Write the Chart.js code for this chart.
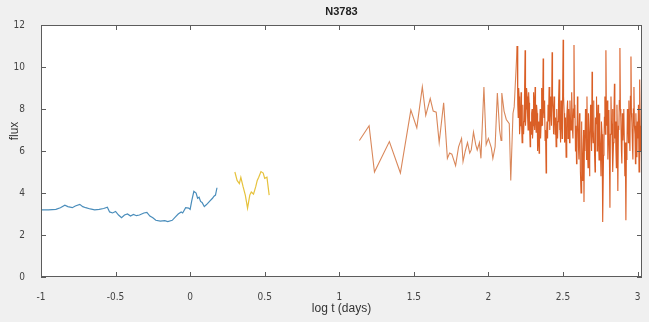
<!DOCTYPE html>
<html>
<head>
<meta charset="utf-8">
<script src="https://cdn.jsdelivr.net/npm/chart.js@4"></script>
<style>
  html, body { margin: 0; padding: 0; background: #f0f0f0; }
  #wrap { width: 649px; height: 322px; }
</style>
</head>
<body>
<div id="wrap"><canvas id="chartFlux" width="649" height="322"></canvas></div>
<script>
// Light curve of N3783: flux vs log t (days), three segments
const titleText = "N3783";
const xTicks = [-1, -0.5, 0, 0.5, 1, 1.5, 2, 2.5, 3];
const yTicks = [0, 2, 4, 6, 8, 10, 12];

// segment 1 (blue)
const blueX = [-1.00, -0.95, -0.90, -0.87, -0.84, -0.82, -0.79, -0.77, -0.74, -0.72, -0.70, -0.67, -0.64, -0.61, -0.58, -0.555,
    -0.54, -0.52, -0.50, -0.48, -0.46, -0.44, -0.42, -0.40, -0.38, -0.36, -0.34, -0.31, -0.29, -0.27, -0.25, -0.23,
    -0.20, -0.17, -0.15, -0.12, -0.10, -0.08, -0.06, -0.05, -0.03, -0.01, 0.00, 0.01, 0.025, 0.04, 0.05, 0.06, 0.07,
    0.08, 0.095, 0.11, 0.13, 0.15, 0.16, 0.17, 0.18];
const blueY = [3.2, 3.2, 3.22, 3.3, 3.42, 3.35, 3.3, 3.38, 3.46, 3.35, 3.3, 3.24, 3.2, 3.22, 3.26, 3.32,
    3.1, 3.05, 3.12, 2.95, 2.82, 2.95, 3.0, 2.9, 2.98, 2.92, 2.95, 3.05, 3.08, 2.9, 2.82, 2.7,
    2.66, 2.68, 2.64, 2.7, 2.85, 3.0, 3.1, 3.05, 3.3, 3.28, 3.22, 3.6, 4.08, 4.0, 3.75, 3.8, 3.6,
    3.55, 3.35, 3.45, 3.6, 3.75, 3.85, 3.9, 4.25];

// segment 2 (yellow)
const yellowX = [0.30, 0.315, 0.33, 0.34, 0.355, 0.37, 0.385, 0.40, 0.41, 0.425, 0.44, 0.45, 0.46, 0.475, 0.49, 0.50, 0.515, 0.53];
const yellowY = [5.0, 4.6, 4.45, 4.75, 4.3, 3.9, 3.28, 3.9, 4.05, 3.95, 4.3, 4.6, 4.75, 5.02, 4.95, 4.7, 4.75, 3.9];

// segment 3 (orange), sparse start then dense tail
const orangeX = [1.135, 1.20, 1.236, 1.336, 1.41, 1.48, 1.52, 1.557, 1.58, 1.61, 1.63, 1.65, 1.67, 1.70, 1.725, 1.74,
    1.755, 1.78, 1.80, 1.82, 1.83, 1.845, 1.86, 1.875, 1.885, 1.90, 1.915, 1.925, 1.94, 1.95, 1.97, 1.985,
    2.00, 2.02, 2.03, 2.045, 2.06, 2.075, 2.085, 2.09, 2.105, 2.12, 2.14, 2.15, 2.165, 2.173,
    2.193, 2.197, 2.200, 2.203, 2.206, 2.209, 2.212, 2.216, 2.219, 2.222, 2.226, 2.229, 2.232, 2.236, 2.239, 2.242,
    2.246, 2.249, 2.253, 2.256, 2.260, 2.263, 2.266, 2.270, 2.273, 2.276, 2.280, 2.283, 2.286, 2.290, 2.293, 2.296,
    2.300, 2.303, 2.306, 2.310, 2.313, 2.316, 2.320, 2.323, 2.327, 2.330, 2.333, 2.337, 2.340, 2.343, 2.347, 2.350,
    2.353, 2.357, 2.360, 2.363, 2.367, 2.370, 2.373, 2.377, 2.380, 2.383, 2.387, 2.390, 2.393, 2.397, 2.400, 2.403,
    2.407, 2.410, 2.413, 2.417, 2.420, 2.423, 2.427, 2.430, 2.434, 2.437, 2.440, 2.444, 2.447, 2.450, 2.454, 2.457,
    2.460, 2.464, 2.467, 2.470, 2.474, 2.477, 2.480, 2.484, 2.487, 2.490, 2.494, 2.497, 2.501, 2.504, 2.508, 2.511,
    2.514, 2.517, 2.521, 2.524, 2.527, 2.531, 2.534, 2.537, 2.540, 2.544, 2.547, 2.550, 2.554, 2.557, 2.560, 2.564,
    2.567, 2.570, 2.574, 2.577,
    2.580, 2.584, 2.587, 2.591, 2.594, 2.597, 2.600, 2.604, 2.607, 2.611, 2.614, 2.617, 2.621, 2.624, 2.627, 2.631,
    2.634, 2.638, 2.641, 2.644, 2.647, 2.651, 2.654, 2.658, 2.661, 2.664, 2.668, 2.671, 2.675, 2.678, 2.681, 2.685,
    2.688, 2.692, 2.695, 2.698, 2.702, 2.705, 2.708, 2.712, 2.715, 2.718, 2.722, 2.725, 2.729, 2.732, 2.735, 2.739,
    2.742, 2.745, 2.748, 2.752, 2.755, 2.758, 2.762, 2.765, 2.768, 2.772, 2.775, 2.778, 2.781, 2.785, 2.788, 2.791,
    2.795, 2.798, 2.801, 2.805, 2.808, 2.811, 2.815, 2.818, 2.822, 2.825, 2.829, 2.832, 2.835, 2.839, 2.842, 2.845,
    2.848, 2.852, 2.855, 2.858, 2.862, 2.865, 2.868, 2.872, 2.875, 2.878, 2.882, 2.885, 2.888, 2.892, 2.895, 2.898,
    2.902, 2.905, 2.908, 2.912, 2.915, 2.918, 2.922, 2.925, 2.929, 2.932, 2.935, 2.939, 2.942, 2.945, 2.949, 2.952,
    2.956, 2.959, 2.962, 2.966, 2.969, 2.972, 2.976, 2.979, 2.983, 2.986, 2.989, 2.993, 2.996, 2.999, 3.003, 3.006,
    3.010, 3.013, 3.016, 3.020, 3.023, 3.027, 3.030];
const orangeY = [6.5, 7.2, 5.0, 6.45, 4.95, 7.95, 7.1, 9.05, 7.7, 8.5, 7.9, 7.85, 6.4, 8.3, 5.65, 5.9,
    5.85, 5.3, 6.2, 6.6, 5.5, 6.0, 6.4, 5.9, 6.05, 6.9, 6.3, 6.05, 6.4, 5.65, 9.05, 6.3,
    6.6, 6.15, 5.65, 6.2, 8.76, 7.0, 6.5, 8.76, 7.9, 7.5, 7.3, 4.6, 7.8, 8.1,
    11.0, 8.2, 7.6, 9.0, 8.6, 6.8, 7.2, 8.0, 8.8, 7.4, 6.4, 7.6, 8.2, 6.8, 7.4, 8.6,
    10.8, 7.2, 8.0, 9.0, 8.6, 7.6, 7.0, 8.8, 8.3, 7.2, 6.2, 7.4, 6.8, 7.8, 8.0, 6.6,
    7.2, 8.8, 8.4, 7.0, 9.05, 7.6, 6.9, 8.2, 7.8, 6.0, 6.4, 7.4, 5.9, 7.0, 8.0, 6.6,
    7.2, 9.0, 8.5, 7.2, 10.4, 8.0, 7.6, 8.4, 6.5, 7.0, 4.95, 6.8, 7.4, 6.6, 8.2, 7.4,
    9.05, 7.6, 7.0, 8.6, 8.0, 7.2, 10.7, 8.4, 7.8, 6.8, 8.6, 7.6, 6.8, 7.6, 6.2, 7.4,
    8.0, 6.6, 7.4, 8.2, 9.4, 7.0, 7.6, 6.4, 8.4, 7.8, 6.6, 8.0, 11.3, 8.6, 7.8, 6.4,
    6.8, 7.6, 5.7, 7.0, 7.6, 8.4, 6.6, 7.2, 8.0, 6.4, 8.4, 7.6, 7.0, 8.2, 8.8, 7.0,
    6.6, 8.0, 11.05, 7.6,
    8.2, 6.0, 7.2, 5.4, 6.4, 8.6, 8.0, 6.2, 5.6, 7.8, 7.2, 5.0, 4.0, 7.4, 6.8, 4.6,
    5.4, 7.0, 3.57, 6.6, 6.0, 8.0, 7.4, 5.6, 8.6, 6.2, 5.2, 7.8, 6.85, 4.8, 5.6, 8.2,
    7.6, 6.0, 9.77, 7.0, 6.4, 8.4, 7.8, 5.8, 5.0, 7.6, 7.3, 8.6, 6.0, 7.2, 8.2, 6.4,
    5.57, 7.8, 7.0, 5.8, 4.8, 7.4, 6.8, 5.2, 2.62, 5.8, 6.4, 7.6, 8.6, 6.8, 10.8, 7.8,
    7.2, 8.4, 5.6, 7.0, 7.95, 6.0, 3.3, 6.8, 8.6, 7.4, 6.85, 8.0, 5.0, 6.4, 7.8, 9.2,
    6.6, 7.4, 6.05, 5.2, 8.2, 6.6, 4.1, 7.2, 7.0, 8.4, 10.9, 8.0, 7.6, 6.0, 5.4, 7.8,
    6.5, 7.2, 8.0, 6.2, 4.8, 6.4, 2.7, 5.6, 6.2, 8.0, 7.6, 6.4, 8.4, 7.0, 6.0, 8.6,
    10.5, 7.8, 7.4, 6.2, 5.6, 8.0, 9.05, 7.2, 6.8, 5.4, 7.8, 6.6, 5.7, 7.4, 6.6, 8.2,
    5.0, 6.4, 9.4, 6.0, 7.2, 5.4, 12.0];

function toPoints(xs, ys) {
    return xs.map((x, i) => ({ x: x, y: ys[i] }));
}

const tickFont = { family: "'Liberation Sans Narrow', 'DejaVu Sans Condensed', sans-serif", size: 10 };

// grey figure background, white axes, box and inward ticks like matlab
const matlabFrame = {
    id: "matlabFrame",
    beforeDraw(chart) {
        const { ctx, chartArea: a } = chart;
        ctx.save();
        ctx.fillStyle = "#f0f0f0";
        ctx.fillRect(0, 0, chart.width, chart.height);
        ctx.fillStyle = "#ffffff";
        ctx.fillRect(a.left, a.top, a.right - a.left, a.bottom - a.top);
        ctx.restore();
    },
    afterDraw(chart) {
        const { ctx, chartArea: a, scales } = chart;
        ctx.save();
        ctx.strokeStyle = "#5c5c5c";
        ctx.lineWidth = 1;
        ctx.strokeRect(a.left + 0.5, a.top + 0.5, a.right - a.left - 1, a.bottom - a.top - 1);
        ctx.beginPath();
        xTicks.forEach(v => {
            const px = Math.round(scales.x.getPixelForValue(v)) + 0.5;
            ctx.moveTo(px, a.bottom); ctx.lineTo(px, a.bottom - 5);
            ctx.moveTo(px, a.top); ctx.lineTo(px, a.top + 5);
        });
        yTicks.forEach(v => {
            const py = Math.round(scales.y.getPixelForValue(v)) + 0.5;
            ctx.moveTo(a.left, py); ctx.lineTo(a.left + 5, py);
            ctx.moveTo(a.right, py); ctx.lineTo(a.right - 5, py);
        });
        ctx.stroke();

        // title and y label
        ctx.fillStyle = "#222";
        ctx.font = "bold 11px 'Liberation Sans', Arial, sans-serif";
        ctx.textAlign = "center";
        ctx.textBaseline = "middle";
        ctx.fillText(titleText, (a.left + a.right) / 2, 12);
        ctx.translate(15, 131);
        ctx.rotate(-Math.PI / 2);
        ctx.fillStyle = "#333";
        ctx.font = "12px 'Liberation Sans', Arial, sans-serif";
        ctx.fillText("flux", 0, 0);
        ctx.restore();
    }
};

const ctxFlux = document.getElementById("chartFlux").getContext("2d");
new Chart(ctxFlux, {
    type: "line",
    data: {
        datasets: [
            { label: "seg1", data: toPoints(blueX, blueY), borderColor: "#4a8dbb", borderWidth: 1.2 },
            { label: "seg2", data: toPoints(yellowX, yellowY), borderColor: "#e6c23c", borderWidth: 1.2 },
            {
                label: "seg3", data: toPoints(orangeX, orangeY), borderColor: "#da6a30", borderWidth: 1.1,
                // blurry sparse part reads lighter in the source image
                segment: { borderColor: c => c.p0.parsed.x < 2.19 ? "#d9875a" : "#da5f26" }
            }
        ]
    },
    options: {
        responsive: false,
        animation: false,
        devicePixelRatio: 1,
        layout: { padding: { top: 25, right: 7, left: 0, bottom: 0 } },
        elements: { point: { radius: 0 }, line: { tension: 0 } },
        plugins: { legend: { display: false }, tooltip: { enabled: false }, title: { display: false } },
        scales: {
            x: {
                type: "linear",
                min: -1,
                max: 3.03,
                grid: { display: false },
                border: { display: false },
                afterBuildTicks: s => { s.ticks = xTicks.map(v => ({ value: v })); },
                afterFit: s => { s.height = 45; },
                ticks: { font: tickFont, color: "#444", padding: 6, maxRotation: 0, callback: v => String(v) },
                title: {
                    display: true,
                    text: "log t (days)",
                    color: "#333",
                    font: { family: "'Liberation Sans', Arial, sans-serif", size: 12 },
                    padding: { top: 0, bottom: 6 }
                }
            },
            y: {
                min: 0,
                max: 12,
                grid: { display: false },
                border: { display: false },
                afterBuildTicks: s => { s.ticks = yTicks.map(v => ({ value: v })); },
                afterFit: s => { s.width = 41; },
                ticks: { font: tickFont, color: "#444", padding: 8, callback: v => String(v) }
            }
        }
    },
    plugins: [matlabFrame]
});
</script>
</body>
</html>
